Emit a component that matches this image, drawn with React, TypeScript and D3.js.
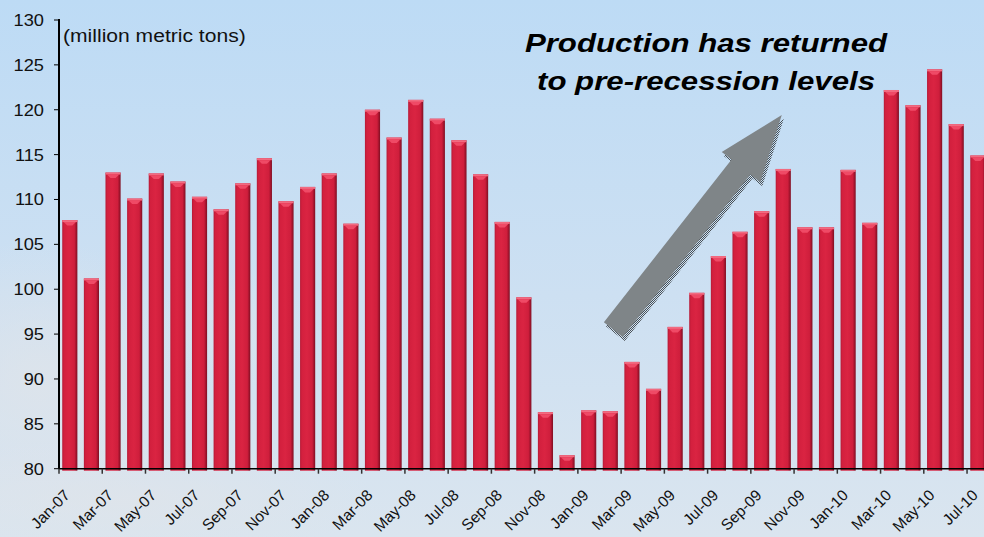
import * as d3 from "d3"

const months = [
  "Jan-07", "Feb-07", "Mar-07", "Apr-07", "May-07", "Jun-07", "Jul-07", "Aug-07", "Sep-07", "Oct-07", "Nov-07", "Dec-07",
  "Jan-08", "Feb-08", "Mar-08", "Apr-08", "May-08", "Jun-08", "Jul-08", "Aug-08", "Sep-08", "Oct-08", "Nov-08", "Dec-08",
  "Jan-09", "Feb-09", "Mar-09", "Apr-09", "May-09", "Jun-09", "Jul-09", "Aug-09", "Sep-09", "Oct-09", "Nov-09", "Dec-09",
  "Jan-10", "Feb-10", "Mar-10", "Apr-10", "May-10", "Jun-10", "Jul-10",
]

const production = [
  107.7, 101.2, 113.0, 110.1, 112.9, 112.0, 110.3, 108.9, 111.8, 114.6, 109.8, 111.4,
  112.9, 107.3, 120.0, 116.9, 121.1, 119.0, 116.6, 112.8, 107.5, 99.1, 86.3, 81.5,
  86.5, 86.4, 91.9, 88.9, 95.8, 99.6, 103.7, 106.4, 108.7, 113.4, 106.9, 106.9,
  113.3, 107.4, 122.2, 120.5, 124.5, 118.4, 114.9,
]

const yTicks = [80, 85, 90, 95, 100, 105, 110, 115, 120, 125, 130]

const unitLabel = "(million metric tons)"
const titleLines = ["Production has returned", "to pre-recession levels"]

const width = 984
const height = 537
const stretch = 1.14 // the original picture is widened a bit

export default function App() {
  const left = 59
  const step = 21.62
  const x = d3.scaleBand<string>()
    .domain(months)
    .range([left, left + step * months.length])
    .paddingInner(0.3)
    .paddingOuter(0.15)
  const y = d3.scaleLinear().domain([80, 130]).range([468.7, 20])
  const bw = x.bandwidth()
  const gap = x.step() * 0.3 / 2
  const font = "Arial, 'Liberation Sans', sans-serif"

  // arrow: tail near Feb-09 at ~95.5, tip near Oct-09 at ~119.4
  const ax0 = x("Feb-09")! + bw / 2 + 3
  const ay0 = y(95.5)
  const ax1 = x("Oct-09")! + bw / 2 - 1.5
  const ay1 = y(119.4)
  const len = Math.hypot(ax1 - ax0, ay1 - ay0)
  const ux = (ax1 - ax0) / len
  const uy = (ay1 - ay0) / len
  const nx = -uy
  const ny = ux
  const sw = 12, hw = 24.5, hl = 66
  const hx = ax1 - ux * hl, hy = ay1 - uy * hl
  const arrow = [
    [ax0 + nx * sw, ay0 + ny * sw],
    [hx + nx * sw, hy + ny * sw],
    [hx + nx * hw, hy + ny * hw],
    [ax1, ay1],
    [hx - nx * hw, hy - ny * hw],
    [hx - nx * sw, hy - ny * sw],
    [ax0 - nx * sw, ay0 - ny * sw],
  ].map(p => p.join(",")).join(" ")

  return (
    <svg width={width} height={height} style={{ position: "absolute", left: 0, top: 0 }}
      fontFamily={font}>
      <defs>
        <linearGradient id="bg" x1="0" y1="0" x2="0" y2="1">
          <stop offset="0" stopColor="#bddbf5" />
          <stop offset="0.55" stopColor="#cde0f2" />
          <stop offset="1" stopColor="#dae5ef" />
        </linearGradient>
        <radialGradient id="cloud" cx="0.5" cy="0.5" r="0.5">
          <stop offset="0" stopColor="#dfe4ea" stopOpacity="0.8" />
          <stop offset="1" stopColor="#dfe4ea" stopOpacity="0" />
        </radialGradient>
        <linearGradient id="bar" x1="0" y1="0" x2="1" y2="0">
          <stop offset="0" stopColor="#b51a36" />
          <stop offset="0.12" stopColor="#d3203e" />
          <stop offset="0.45" stopColor="#da2442" />
          <stop offset="0.8" stopColor="#cf1e3c" />
          <stop offset="0.9" stopColor="#a8152f" />
          <stop offset="1" stopColor="#7e0f22" />
        </linearGradient>
        <pattern id="dots" width="2" height="2" patternUnits="userSpaceOnUse">
          <rect width="1" height="1" fill="#4a5055" />
          <rect x="1" y="1" width="1" height="1" fill="#4a5055" />
        </pattern>
      </defs>

      <rect width={width} height={height} fill="url(#bg)" />
      <ellipse cx={40} cy={380} rx={160} ry={140} fill="url(#cloud)" />
      <ellipse cx={120} cy={500} rx={260} ry={60} fill="url(#cloud)" />
      <ellipse cx={230} cy={330} rx={90} ry={60} fill="url(#cloud)" opacity={0.6} />

      {/* bars */}
      {months.map((m, i) => {
        const bx = x(m)!
        const top = y(production[i])
        const bottom = y(80) + 2
        return (
          <g key={m}>
            <rect x={bx} y={top} width={bw} height={bottom - top} fill="url(#bar)" />
            <rect x={bx} y={top} width={bw} height={2} fill="#f26a80" />
            <polygon
              points={`${bx + 1.5},${top + 2} ${bx + bw - 1.5},${top + 2} ${bx + bw - 5},${top + 5.5} ${bx + 5},${top + 5.5}`}
              fill="#ef4a66" />
          </g>
        )
      })}

      {/* y axis */}
      <line x1={left} x2={left} y1={y(130) - 1} y2={y(80)} stroke="#000" strokeWidth={2} />
      {yTicks.map(t => (
        <g key={t} transform={`translate(0,${y(t)})`}>
          <line x1={left - 5} x2={left} stroke="#000" strokeWidth={1} />
          <text transform={`translate(44,6) scale(${stretch},1)`} textAnchor="end" fontSize={16} fill="#111">{t}</text>
        </g>
      ))}

      {/* x axis */}
      <line x1={left} x2={left + step * months.length} y1={y(80)} y2={y(80)} stroke="#000" strokeWidth={1.5} />
      {months.map((m, i) => i % 2 === 0 ? (
        <g key={m}>
          <line x1={x(m)! - gap} x2={x(m)! - gap} y1={y(80)} y2={y(80) + 5} stroke="#333" strokeWidth={1.5} />
          <text transform={`translate(${x(m)! + bw / 2 + 1},${y(80) + 27.5}) rotate(-45)`}
            textAnchor="end" fontSize={15.5} fill="#111">{m}</text>
        </g>
      ) : null)}

      <text transform={`translate(63,41.5) scale(${stretch},1)`} fontSize={18.5} fill="#111">{unitLabel}</text>

      {/* arrow */}
      <polygon points={arrow} fill="url(#dots)" transform="translate(2,4)" />
      <polygon points={arrow} fill="#7f8588" />

      {titleLines.map((t, i) => (
        <text key={t} transform={`translate(706,${52 + i * 38}) scale(1.2,1)`} textAnchor="middle"
          fontSize={26} fontWeight="bold" fontStyle="italic" fill="#000">{t}</text>
      ))}
    </svg>
  )
}
